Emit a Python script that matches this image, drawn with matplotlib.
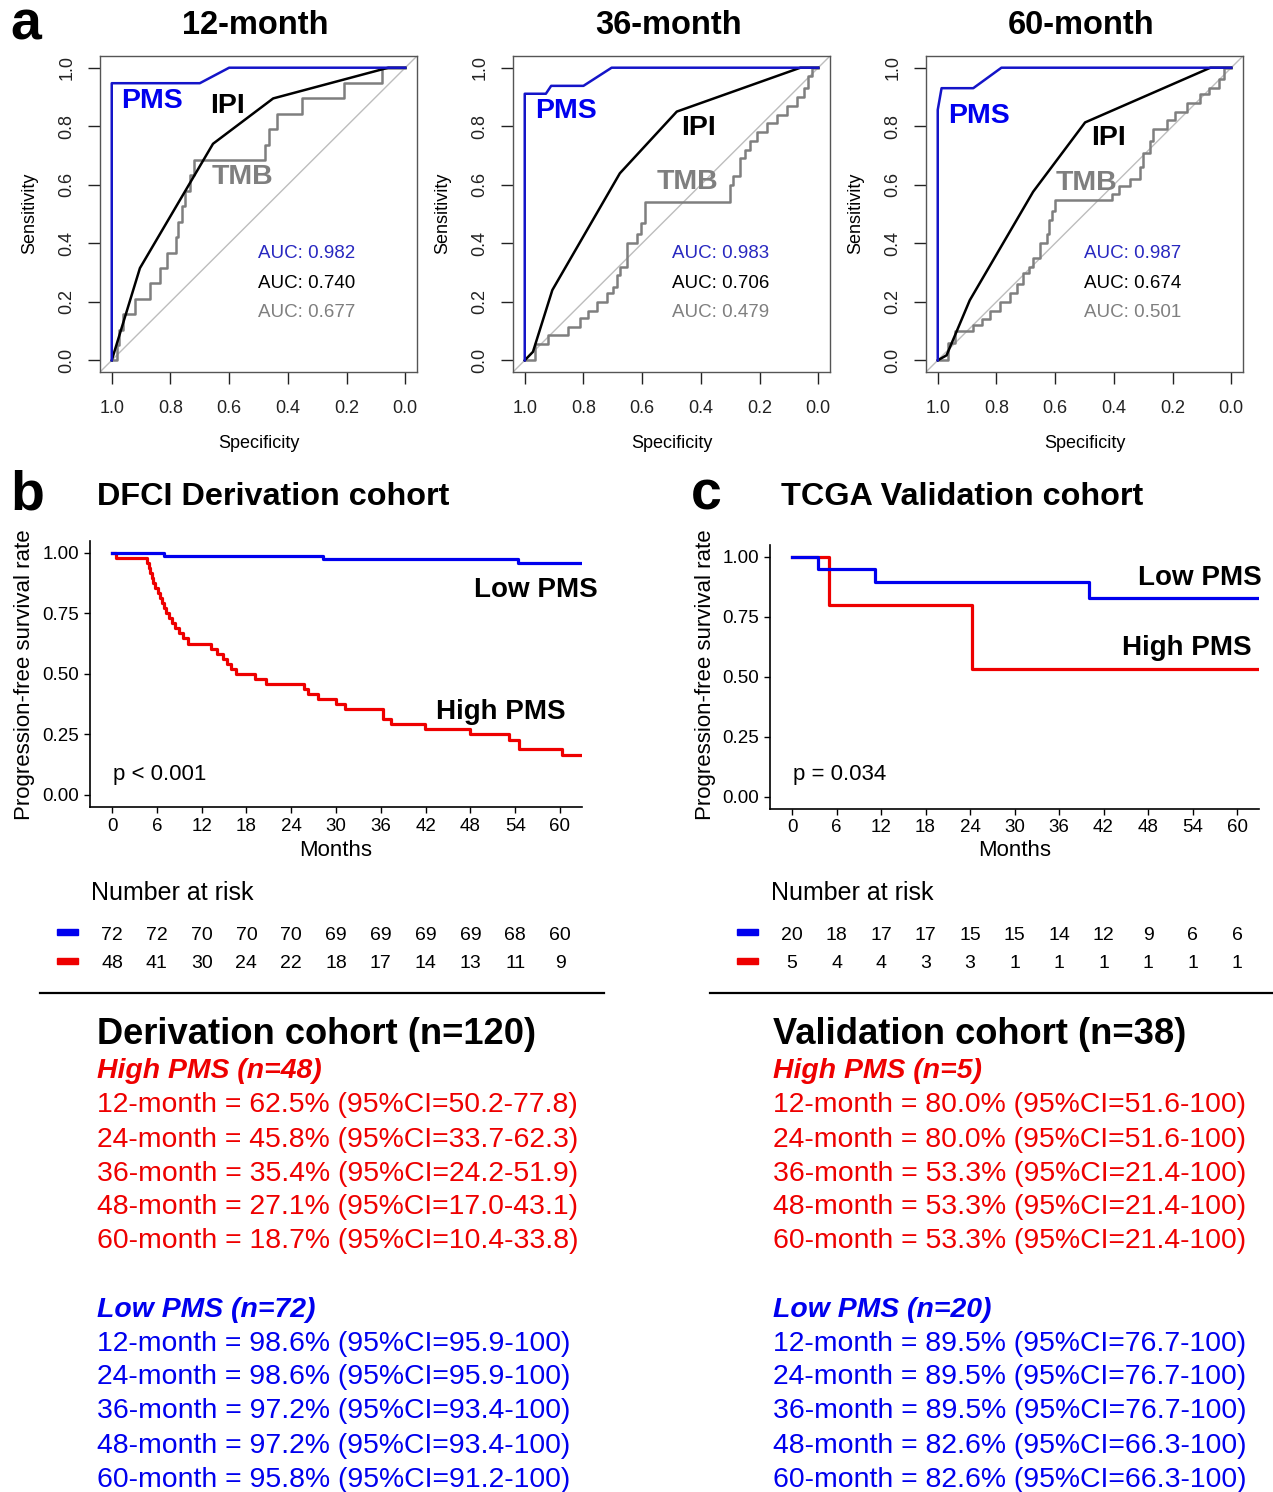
import matplotlib
matplotlib.use("Agg")
import matplotlib.pyplot as plt
from matplotlib.lines import Line2D
from matplotlib.patches import Rectangle
import matplotlib.transforms as mtransforms

plt.rcParams['font.family'] = ['Liberation Sans', 'DejaVu Sans']

W, H = 1273, 1492

# ---------------- data ----------------
roc_titles = ["12-month", "36-month", "60-month"]
roc_ticks = [1.0, 0.8, 0.6, 0.4, 0.2, 0.0]
auc_pms = [0.982, 0.983, 0.987]
auc_ipi = [0.740, 0.706, 0.674]
auc_tmb = [0.677, 0.479, 0.501]

pms12_spec = [1.0, 1.0, 0.70, 0.60, 0.0]
pms12_sens = [0.0, 0.947, 0.947, 1.0, 1.0]
ipi12_spec = [1.0, 0.904, 0.655, 0.45, 0.058, 0.0]
ipi12_sens = [0.0, 0.315, 0.74, 0.895, 1.0, 1.0]
tmb12_spec = [1.0, 0.983, 0.975, 0.961, 0.921, 0.870, 0.836, 0.813, 0.782, 0.775, 0.762,
              0.75, 0.735, 0.72, 0.478, 0.465, 0.437, 0.353, 0.21, 0.08, 0.0]
tmb12_sens = [0.0, 0.053, 0.105, 0.158, 0.211, 0.263, 0.316, 0.368, 0.421, 0.474, 0.526,
              0.579, 0.632, 0.684, 0.737, 0.789, 0.842, 0.895, 0.947, 1.0, 1.0]

pms36_spec = [1.0, 1.0, 0.928, 0.91, 0.80, 0.704, 0.0]
pms36_sens = [0.0, 0.911, 0.911, 0.938, 0.938, 1.0, 1.0]
ipi36_spec = [1.0, 0.972, 0.906, 0.676, 0.482, 0.061, 0.0]
ipi36_sens = [0.0, 0.029, 0.24, 0.639, 0.85, 1.0, 1.0]
tmb36_spec = [1.0, 0.966, 0.92, 0.852, 0.812, 0.784, 0.755, 0.721, 0.70, 0.687, 0.676, 0.653,
              0.619, 0.605, 0.59, 0.30, 0.29, 0.266, 0.25, 0.233, 0.21, 0.175, 0.141, 0.107,
              0.073, 0.05, 0.034, 0.022, 0.0]
tmb36_sens = [0.0, 0.057, 0.086, 0.114, 0.143, 0.17, 0.2, 0.23, 0.25, 0.29, 0.32, 0.40,
              0.43, 0.47, 0.542, 0.60, 0.63, 0.69, 0.72, 0.75, 0.78, 0.81, 0.84, 0.87,
              0.90, 0.93, 0.97, 1.0, 1.0]

pms60_spec = [1.0, 1.0, 0.987, 0.879, 0.783, 0.0]
pms60_sens = [0.0, 0.856, 0.93, 0.93, 1.0, 1.0]
ipi60_spec = [1.0, 0.97, 0.891, 0.675, 0.498, 0.071, 0.0]
ipi60_sens = [0.0, 0.017, 0.205, 0.576, 0.813, 1.0, 1.0]
tmb60_spec = [1.0, 0.965, 0.942, 0.879, 0.85, 0.823, 0.788, 0.754, 0.73, 0.708,
              0.69, 0.674, 0.652, 0.629, 0.62, 0.612, 0.60, 0.407, 0.384, 0.345,
              0.31, 0.30, 0.276, 0.265, 0.219, 0.19, 0.151, 0.106, 0.075, 0.043, 0.026, 0.0]
tmb60_sens = [0.0, 0.06, 0.10, 0.12, 0.14, 0.17, 0.20, 0.23, 0.26, 0.30,
              0.32, 0.35, 0.40, 0.43, 0.48, 0.51, 0.547, 0.57, 0.594, 0.62,
              0.66, 0.71, 0.75, 0.79, 0.82, 0.85, 0.88, 0.91, 0.93, 0.96, 1.0, 1.0]

km_ticks = [0, 6, 12, 18, 24, 30, 36, 42, 48, 54, 60]
km_yticks = [0.0, 0.25, 0.5, 0.75, 1.0]

deriv_low_t = [0, 7.0, 28.3, 54.4, 63]
deriv_low_s = [1.0, 0.986, 0.972, 0.958, 0.958]
deriv_high_t = [0, 0.5, 4.7, 4.9, 5.1, 5.3, 5.5, 5.8, 6.2, 6.4, 6.7, 7.0, 7.2, 7.6, 8.0, 8.5,
                9.0, 9.5, 10.2, 13.2, 14.0, 14.8, 15.4, 16.0, 16.6, 19.2, 20.6, 25.7, 26.3,
                27.6, 30.0, 31.2, 36.3, 37.4, 41.9, 48.0, 53.2, 54.5, 60.3, 63]
deriv_high_s = [1.0, 0.979, 0.958, 0.938, 0.917, 0.896, 0.875, 0.854, 0.833, 0.812, 0.792,
                0.771, 0.75, 0.729, 0.708, 0.688, 0.667, 0.646, 0.625, 0.604, 0.583, 0.562,
                0.542, 0.521, 0.5, 0.479, 0.458, 0.438, 0.417, 0.396, 0.375, 0.354, 0.312,
                0.292, 0.271, 0.25, 0.229, 0.188, 0.167, 0.167]

valid_low_t = [0, 3.5, 11.2, 40.0, 63]
valid_low_s = [1.0, 0.947, 0.895, 0.826, 0.826]
valid_high_t = [0, 5.0, 24.3, 63]
valid_high_s = [1.0, 0.8, 0.533, 0.533]

deriv_risk_low = [72, 72, 70, 70, 70, 69, 69, 69, 69, 68, 60]
deriv_risk_high = [48, 41, 30, 24, 22, 18, 17, 14, 13, 11, 9]
valid_risk_low = [20, 18, 17, 17, 15, 15, 14, 12, 9, 6, 6]
valid_risk_high = [5, 4, 4, 3, 3, 1, 1, 1, 1, 1, 1]

months_lbl = [12, 24, 36, 48, 60]
deriv_high_pct = ["62.5", "45.8", "35.4", "27.1", "18.7"]
deriv_high_ci = ["50.2-77.8", "33.7-62.3", "24.2-51.9", "17.0-43.1", "10.4-33.8"]
deriv_low_pct = ["98.6", "98.6", "97.2", "97.2", "95.8"]
deriv_low_ci = ["95.9-100", "95.9-100", "93.4-100", "93.4-100", "91.2-100"]
valid_high_pct = ["80.0", "80.0", "53.3", "53.3", "53.3"]
valid_high_ci = ["51.6-100", "51.6-100", "21.4-100", "21.4-100", "21.4-100"]
valid_low_pct = ["89.5", "89.5", "89.5", "82.6", "82.6"]
valid_low_ci = ["76.7-100", "76.7-100", "76.7-100", "66.3-100", "66.3-100"]

# ---------------- styles ----------------
BLUE_LINE = "#1414C8"
BLUE_TXT = "#0000EE"
BLUE_AUC = "#2828C0"
GRAY = "#7F7F7F"
RED = "#EE0000"
KBLUE = "#0000EE"

fig = plt.figure(figsize=(W / 100, H / 100), dpi=100)


def fx(px):
    return px / W


def fy(py):
    return 1 - py / H


def add_ax(l, t, r, b):
    return fig.add_axes([l / W, 1 - b / H, (r - l) / W, (b - t) / H])


def ftext(px, py, s, dy=3, **kw):
    fig.text(fx(px), fy(py + dy), s, **kw)


# ---------------- panel a: ROC ----------------
roc_boxes = [(100, 56, 417, 372), (513, 56, 830, 372), (926, 56, 1243, 372)]
roc_curves = [
    (pms12_spec, pms12_sens, ipi12_spec, ipi12_sens, tmb12_spec, tmb12_sens),
    (pms36_spec, pms36_sens, ipi36_spec, ipi36_sens, tmb36_spec, tmb36_sens),
    (pms60_spec, pms60_sens, ipi60_spec, ipi60_sens, tmb60_spec, tmb60_sens),
]
lbl_pos = [
    ((0.969, 0.885), (0.666, 0.868), (0.659, 0.625)),
    ((0.966, 0.851), (0.468, 0.795), (0.549, 0.608)),
    ((0.966, 0.834), (0.478, 0.759), (0.60, 0.605)),
]

for i, (box, cur) in enumerate(zip(roc_boxes, roc_curves)):
    ax = add_ax(*box)
    ps, pse, is_, ise, ts, tse = cur
    ax.plot([1.04, -0.04], [-0.04, 1.04], color="#BDBDBD", lw=1.0, zorder=1)
    ax.plot(ts, tse, drawstyle="steps-post", color=GRAY, lw=1.8, zorder=2)
    ax.plot(is_, ise, color="black", lw=1.8, zorder=3)
    ax.plot(ps, pse, color=BLUE_LINE, lw=1.8, zorder=4)
    ax.set_xlim(1.04, -0.04)
    ax.set_ylim(-0.04, 1.04)
    ax.set_xticks(roc_ticks)
    ax.set_xticklabels([f"{v:.1f}" for v in roc_ticks])
    ax.set_yticks(roc_ticks)
    ax.set_yticklabels([f"{v:.1f}" for v in roc_ticks], rotation=90, va="center")
    ax.tick_params(direction="out", length=8.5, width=1.0, labelsize=13, colors="#222222")
    ax.tick_params(axis="x", pad=12)
    ax.tick_params(axis="y", pad=9)
    for sp in ax.spines.values():
        sp.set_color("#555555")
        sp.set_linewidth(1.0)
    (pl, il, tl) = lbl_pos[i]
    ax.text(pl[0], pl[1], "PMS", color=BLUE_TXT, fontsize=20.5, fontweight="bold", ha="left", va="center")
    ax.text(il[0], il[1], "IPI", color="black", fontsize=20.5, fontweight="bold", ha="left", va="center")
    ax.text(tl[0], tl[1], "TMB", color=GRAY, fontsize=20.5, fontweight="bold", ha="left", va="center")
    ax.text(0.50, 0.366, f"AUC: {auc_pms[i]:.3f}", color=BLUE_AUC, fontsize=13.5, ha="left", va="center")
    ax.text(0.50, 0.263, f"AUC: {auc_ipi[i]:.3f}", color="black", fontsize=13.5, ha="left", va="center")
    ax.text(0.50, 0.164, f"AUC: {auc_tmb[i]:.3f}", color=GRAY, fontsize=13.5, ha="left", va="center")
    cx = (box[0] + box[2]) / 2
    ftext(cx - 3, 22, roc_titles[i], fontsize=23.5, fontweight="bold", ha="center", va="center")
    ftext(box[0] - 70, 213, "Sensitivity", dy=0, fontsize=13, rotation=90, ha="center", va="center")
    ftext(cx, 441, "Specificity", fontsize=13, ha="center", va="center")

ftext(26, 40, "a", dy=0, fontsize=40, fontweight="bold", ha="center", va="baseline")

# ---------------- panels b, c: KM ----------------
km_boxes = [(89.6, 540.6, 582.4, 807.1), (769.75, 544.7, 1259.25, 808.7)]
km_data = [
    (deriv_low_t, deriv_low_s, deriv_high_t, deriv_high_s, deriv_risk_low, deriv_risk_high),
    (valid_low_t, valid_low_s, valid_high_t, valid_high_s, valid_risk_low, valid_risk_high),
]
km_titles = ["DFCI Derivation cohort", "TCGA Validation cohort"]
km_pvals = ["p < 0.001", "p = 0.034"]
letters = ["b", "c"]
title_x = [97, 781]
letter_x = [27, 706]
ylabel_x = [25, 706]
low_lbl = [(598, 587), (1262, 575)]
high_lbl = [(566, 709), (1252, 645)]
p_x = [113, 793]
risk_dash_x = [57, 737]
rule_x = [(40, 604), (710, 1273)]

for j, (box, d) in enumerate(zip(km_boxes, km_data)):
    ax = add_ax(*box)
    lt, ls, ht, hs, rl, rh = d
    ax.step(lt, ls, where="post", color=KBLUE, lw=2.3, zorder=3)
    ax.step(ht, hs, where="post", color=RED, lw=2.3, zorder=2)
    ax.set_xlim(-3, 63)
    ax.set_ylim(-0.05, 1.05)
    ax.set_xticks(km_ticks)
    ax.set_yticks(km_yticks)
    ax.set_yticklabels([f"{v:.2f}" for v in km_yticks])
    ax.spines["top"].set_visible(False)
    ax.spines["right"].set_visible(False)
    ax.spines["left"].set_linewidth(1.2)
    ax.spines["bottom"].set_linewidth(1.2)
    ax.tick_params(direction="out", length=4.5, width=1.0, labelsize=13.5, pad=3, colors="black")
    ax.patch.set_alpha(0)

    cx = (box[0] + box[2]) / 2
    ftext(cx, 848, "Months", fontsize=16, ha="center", va="center")
    ftext(ylabel_x[j], 675, "Progression-free survival rate", dy=0, fontsize=16, rotation=90,
          ha="center", va="center")
    ftext(letter_x[j], 509, letters[j], dy=0, fontsize=40, fontweight="bold", ha="center", va="baseline")
    ftext(title_x[j], 494, km_titles[j], fontsize=23.3, fontweight="bold", ha="left", va="center")
    ftext(low_lbl[j][0], low_lbl[j][1], "Low PMS", fontsize=20, fontweight="bold", ha="right", va="center")
    ftext(high_lbl[j][0], high_lbl[j][1], "High PMS", fontsize=20, fontweight="bold", ha="right", va="center")
    ftext(p_x[j], 772, km_pvals[j], fontsize=16, ha="left", va="center")

    # risk table
    ftext(box[0] + 1, 890, "Number at risk", fontsize=18, ha="left", va="center")
    tr = mtransforms.blended_transform_factory(ax.transData, fig.transFigure)
    for t, v in zip(km_ticks, rl):
        fig.text(t, fy(935), str(v), transform=tr, fontsize=14, ha="center", va="center")
    for t, v in zip(km_ticks, rh):
        fig.text(t, fy(964), str(v), transform=tr, fontsize=14, ha="center", va="center")
    dx = risk_dash_x[j]
    fig.add_artist(Rectangle((fx(dx), fy(935)), 21 / W, 6 / H, color=KBLUE, transform=fig.transFigure))
    fig.add_artist(Rectangle((fx(dx), fy(964)), 21 / W, 6 / H, color=RED, transform=fig.transFigure))
    fig.add_artist(Line2D([fx(rule_x[j][0]), fx(rule_x[j][1])], [fy(993), fy(993)],
                          color="black", lw=1.6, transform=fig.transFigure))

# ---------------- summary text ----------------
blocks = [
    (97, "Derivation cohort (n=120)", "High PMS (n=48)", deriv_high_pct, deriv_high_ci,
     "Low PMS (n=72)", deriv_low_pct, deriv_low_ci),
    (773, "Validation cohort (n=38)", "High PMS (n=5)", valid_high_pct, valid_high_ci,
     "Low PMS (n=20)", valid_low_pct, valid_low_ci),
]
high_rows = [1102, 1137, 1171, 1204, 1238]
low_rows = [1341, 1374, 1408, 1443, 1477]
for (x0, title, hh, hp, hci, lh, lp, lci) in blocks:
    ftext(x0, 1031, title, dy=4, fontsize=26.2, fontweight="bold", ha="left", va="center", color="black")
    ftext(x0, 1068, hh, fontsize=20.4, fontweight="bold", fontstyle="italic", ha="left", va="center", color=RED)
    for m, p, c, y in zip(months_lbl, hp, hci, high_rows):
        ftext(x0, y, f"{m}-month = {p}% (95%CI={c})", fontsize=20.4, ha="left", va="center", color=RED)
    ftext(x0, 1307, lh, fontsize=20.4, fontweight="bold", fontstyle="italic", ha="left", va="center", color=BLUE_TXT)
    for m, p, c, y in zip(months_lbl, lp, lci, low_rows):
        ftext(x0, y, f"{m}-month = {p}% (95%CI={c})", fontsize=20.4, ha="left", va="center", color=BLUE_TXT)

fig.savefig("out.png", dpi=100)
